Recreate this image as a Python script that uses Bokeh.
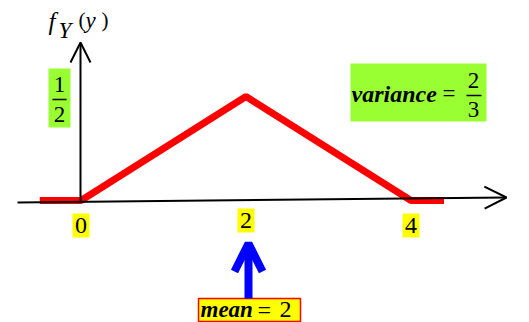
from bokeh.plotting import figure
from bokeh.models import Range1d, Arrow, OpenHead
from bokeh.core.properties import value
from bokeh.embed import file_html
from bokeh.resources import INLINE

# ---- data ----
pdf_x = [-0.5, 0, 2, 4, 4.4]
pdf_y = [0, 0, 0.5, 0, 0]
tick_vals = [0, 2, 4]
tick_labels = ["0", "2", "4"]
mean_val = 2
var_num, var_den = "2", "3"
half_num, half_den = "1", "2"

# screen-pixel helpers for annotation placement (window px -> data)
X0, PXU, Y0, PYU = 80.5, 82.5, 200.0, 208.0
def sx(px): return (px - X0) / PXU
def sy(py): return (Y0 - py) / PYU

W, H = 529, 322
p = figure(width=W, height=H, output_backend="svg", toolbar_location=None,
           x_range=Range1d(sx(0), sx(W)), y_range=Range1d(sy(H), sy(0)),
           min_border=0, outline_line_color=None)
p.axis.visible = False
p.grid.visible = False

SERIF = value("Liberation Serif")

# axes with open arrow heads
p.add_layout(Arrow(end=OpenHead(size=22, line_width=2, line_color="black"),
                   x_start=sx(17), y_start=sy(202), x_end=sx(506), y_end=sy(197),
                   line_width=2, line_color="black"))
p.add_layout(Arrow(end=OpenHead(size=20, line_width=2, line_color="black"),
                   x_start=sx(80), y_start=sy(201), x_end=sx(80), y_end=sy(42),
                   line_width=2, line_color="black"))

# density
p.line(pdf_x, pdf_y, line_color="#ff0000", line_width=7)

# tick labels with yellow boxes
tick_cy = [sy(225), sy(220), sy(225)]
hw = 8.5 / PXU
hh = 12 / PYU
p.quad(left=[t - hw for t in tick_vals], right=[t + hw for t in tick_vals],
       top=[c + hh for c in tick_cy], bottom=[c - hh for c in tick_cy],
       fill_color="#ffff00", line_color=None)
p.text(x=tick_vals, y=tick_cy, text=tick_labels, text_font=SERIF,
       text_font_size="24px", text_align="center", text_baseline="middle",
       text_color="black")

# f_Y(y)
p.text(x=[sx(48)], y=[sy(21)], text=["f"], text_font=SERIF, text_font_style="italic",
       text_font_size="25px", text_baseline="middle")
p.text(x=[sx(58)], y=[sy(30)], text=["Y"], text_font=SERIF, text_font_style="italic",
       text_font_size="23px", text_baseline="middle")
p.text(x=[sx(78)], y=[sy(19)], text=["("], text_font=SERIF,
       text_font_size="21px", text_baseline="middle")
p.text(x=[sx(85)], y=[sy(20)], text=["y"], text_font=SERIF, text_font_style="italic",
       text_font_size="23px", text_baseline="middle")
p.text(x=[sx(101)], y=[sy(19)], text=[")"], text_font=SERIF,
       text_font_size="21px", text_baseline="middle")

# 1/2 box
p.quad(left=sx(48), right=sx(70), top=sy(68), bottom=sy(127),
       fill_color="#99ff33", line_color=None)
p.text(x=[sx(59)] * 2, y=[sy(84), sy(114)], text=[half_num, half_den], text_font=SERIF,
       text_font_size="23px", text_align="center", text_baseline="middle")
p.line([sx(52), sx(66)], [sy(99), sy(99)], line_color="black", line_width=1.5)

# variance box
p.quad(left=sx(350), right=sx(486), top=sy(63), bottom=sy(121),
       fill_color="#99ff33", line_color=None)
p.text(x=[sx(351)], y=[sy(93)], text=["variance"], text_font=SERIF,
       text_font_style="bold italic", text_font_size="24px", text_baseline="middle")
p.text(x=[sx(442)], y=[sy(93)], text=["="], text_font=SERIF,
       text_font_size="23px", text_baseline="middle")
p.text(x=[sx(473)] * 2, y=[sy(80), sy(109)], text=[var_num, var_den], text_font=SERIF,
       text_font_size="23px", text_align="center", text_baseline="middle")
p.line([sx(466), sx(481)], [sy(95), sy(95)], line_color="black", line_width=1.5)

# mean arrow and box
p.add_layout(Arrow(end=OpenHead(size=28, line_width=8, line_color="#0000ff"),
                   x_start=sx(248), y_start=sy(298), x_end=sx(248), y_end=sy(243),
                   line_width=8, line_color="#0000ff"))
p.quad(left=sx(198), right=sx(300), top=sy(298), bottom=sy(321),
       fill_color="#ffff00", line_color="#ff0000", line_width=1.5)
p.text(x=[sx(200)], y=[sy(309)], text=["mean"], text_font=SERIF,
       text_font_style="bold italic", text_font_size="23px", text_baseline="middle")
p.text(x=[sx(257)], y=[sy(309)], text=["="], text_font=SERIF,
       text_font_size="24px", text_baseline="middle")
p.text(x=[sx(279)], y=[sy(309)], text=[str(mean_val)], text_font=SERIF,
       text_font_size="24px", text_baseline="middle")

open("out.html", "w").write(file_html(p, INLINE))
